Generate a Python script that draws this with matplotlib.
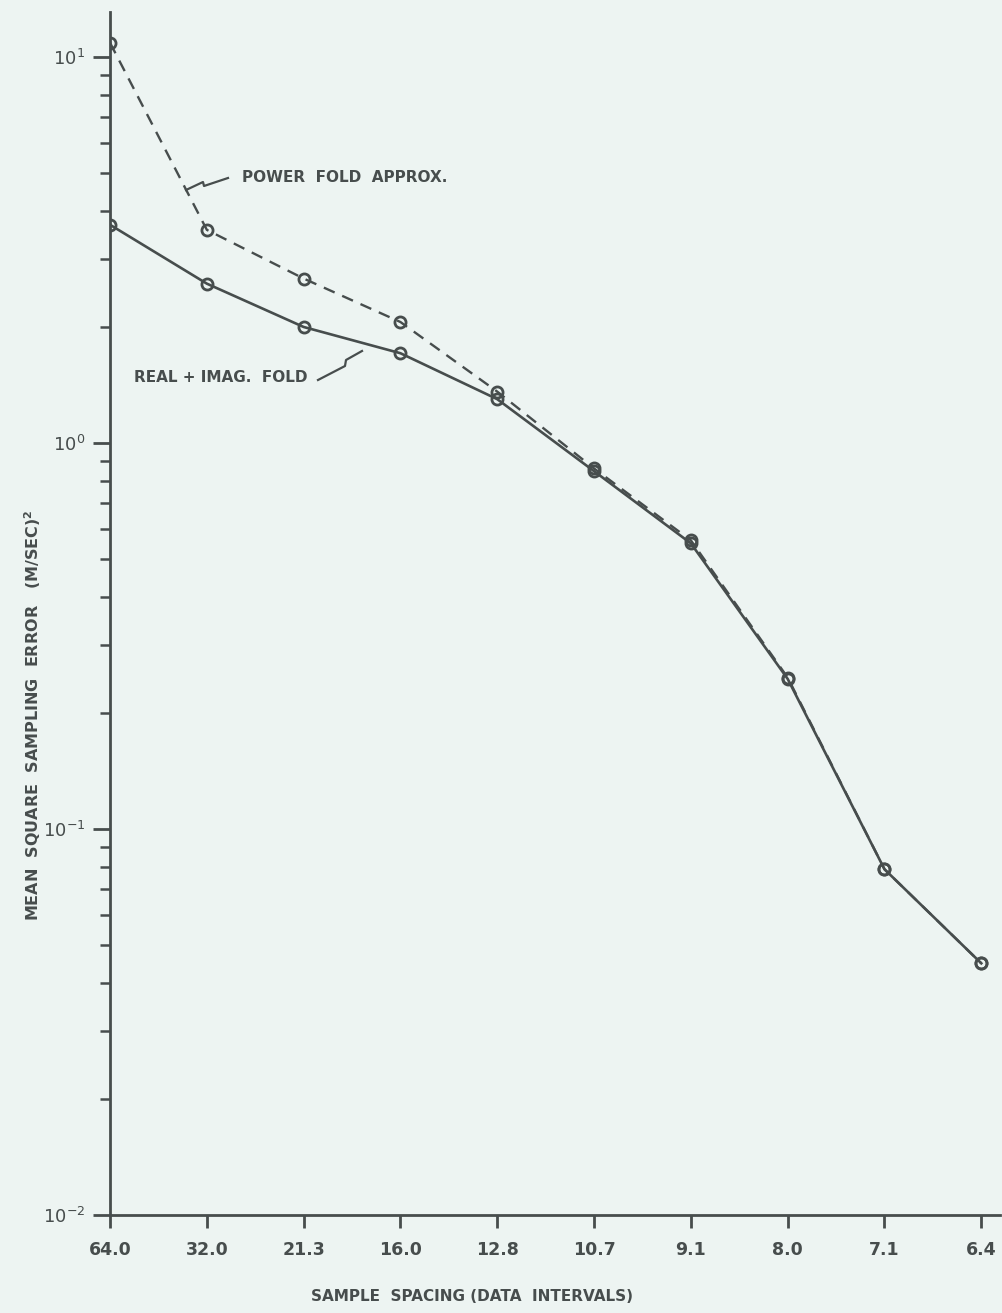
import matplotlib
matplotlib.use("Agg")
import matplotlib.pyplot as plt
from matplotlib.lines import Line2D
from matplotlib.ticker import LogLocator, FixedLocator, FixedFormatter

# Sample spacing (data intervals) and mean square sampling error (m/sec)^2
spacing = ["64.0", "32.0", "21.3", "16.0", "12.8", "10.7", "9.1", "8.0", "7.1", "6.4"]
power_fold = [10.9, 3.57, 2.67, 2.06, 1.36, 0.86, 0.56, 0.247, 0.0787, 0.0449]
real_imag_fold = [3.68, 2.59, 2.00, 1.71, 1.30, 0.846, 0.55, 0.245, 0.0787, 0.0449]
decades = [1e-2, 1e-1, 1e0, 1e1]
decade_labels = ["10$^{-2}$", "10$^{-1}$", "10$^{0}$", "10$^{1}$"]

ink = "#474d4d"
paper = "#edf4f2"

plt.rcParams["font.family"] = ["DejaVu Sans"]
plt.rcParams["mathtext.default"] = "regular"

fig = plt.figure(figsize=(10.03, 13.13), dpi=100, facecolor=paper)
ax = fig.add_axes([0.1097, 0.0746, 0.887, 0.9163])
ax.set_facecolor(paper)

x = list(range(len(spacing)))
ax.plot(x, power_fold, color=ink, lw=1.7, ls=(0, (5, 3.5)),
        marker="o", ms=8, mfc="none", mec=ink, mew=2.0)
ax.plot(x, real_imag_fold, color=ink, lw=1.9, ls="-",
        marker="o", ms=8, mfc="none", mec=ink, mew=2.0)

ax.set_yscale("log")
ax.set_ylim(1e-2, 13.1)
ax.set_xlim(0, 9.19)

ax.xaxis.set_major_locator(FixedLocator(x))
ax.xaxis.set_major_formatter(FixedFormatter(spacing))
ax.yaxis.set_major_locator(FixedLocator(decades))
ax.yaxis.set_major_formatter(FixedFormatter(decade_labels))
ax.yaxis.set_minor_locator(LogLocator(base=10, subs=range(2, 10)))
ax.yaxis.set_minor_formatter(FixedFormatter([]))

for side in ("top", "right"):
    ax.spines[side].set_visible(False)
for side in ("left", "bottom"):
    ax.spines[side].set_color(ink)
    ax.spines[side].set_linewidth(2.0)

ax.tick_params(axis="x", direction="out", length=9, width=2, color=ink,
               pad=10, labelsize=12.5, labelcolor=ink)
ax.tick_params(axis="y", which="major", direction="out", length=12, width=2,
               color=ink, pad=6, labelsize=13, labelcolor=ink)
ax.tick_params(axis="y", which="minor", direction="out", length=7, width=1.8,
               color=ink)
for lbl in ax.get_xticklabels():
    lbl.set_fontweight("bold")

fig.text(0.471, 0.007, "SAMPLE  SPACING (DATA  INTERVALS)", ha="center",
         va="bottom", fontsize=11, fontweight="bold", color=ink)
fig.text(0.033, 0.455, "MEAN  SQUARE  SAMPLING  ERROR   (M/SEC)$^{2}$",
         rotation=90, ha="center", va="center", fontsize=11.5,
         fontweight="bold", color=ink)

# Curve labels with zig-zag leader lines
fig.text(0.241, 1 - 177 / 1313, "POWER  FOLD  APPROX.", ha="left",
         va="center", fontsize=11, fontweight="bold", color=ink)
fig.text(0.134, 1 - 377 / 1313, "REAL + IMAG.  FOLD", ha="left",
         va="center", fontsize=11, fontweight="bold", color=ink)

H = 1313.0
W = 1003.0
leaders = [
    [(228, 178), (204, 186), (203, 182), (186, 190)],
    [(318, 380), (345, 366), (346, 360), (362, 351)],
]
for pts in leaders:
    fig.add_artist(Line2D([p[0] / W for p in pts], [1 - p[1] / H for p in pts],
                          transform=fig.transFigure, color=ink, lw=1.6))

fig.savefig("out.png", dpi=100, facecolor=paper)
